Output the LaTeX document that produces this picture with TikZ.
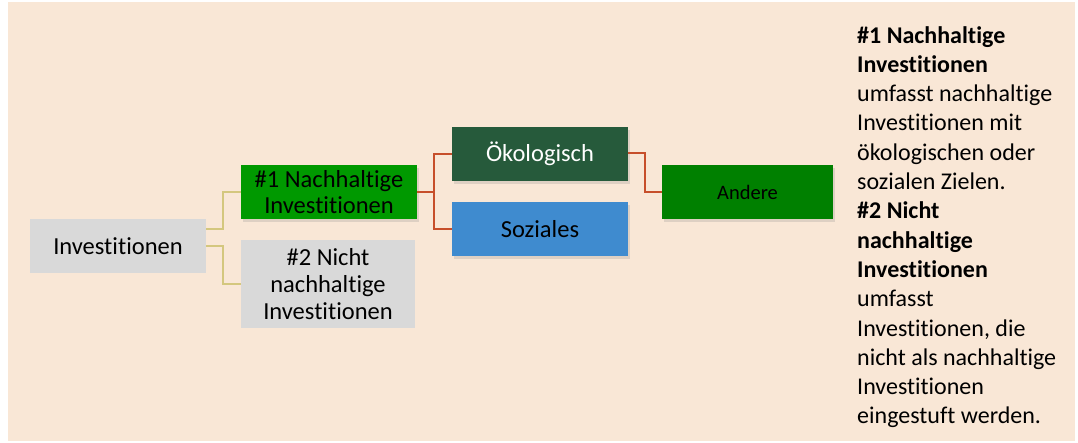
\documentclass[tikz,border=0pt]{standalone}
\usepackage{fontspec}
\setmainfont{Carlito}[Ligatures={NoCommon,NoRare},RawFeature={-liga;-dlig}]
\usetikzlibrary{shadows}
\definecolor{bg}{HTML}{F9E7D6}
\definecolor{boxgrey}{HTML}{D9D9D9}
\definecolor{nachgreen}{HTML}{009900}
\definecolor{oekgreen}{HTML}{265A3B}
\definecolor{sozblue}{HTML}{3F8BCF}
\definecolor{andgreen}{HTML}{008000}
\definecolor{yline}{HTML}{D4C77E}
\definecolor{rline}{HTML}{C74F2B}
\tikzset{
  box/.style={rectangle, inner sep=0pt, align=center, font=\fontsize{24.5}{26.8}\selectfont},
  shadowed/.style={drop shadow={opacity=0.22, shadow xshift=2pt, shadow yshift=-3pt}},
  yconn/.style={draw=yline, line width=1.8pt},
  rconn/.style={draw=rline, line width=2.4pt},
}
\begin{document}
\begin{tikzpicture}[x=1pt,y=-1pt]
\useasboundingbox (0,0) rectangle (1078,442);
\fill[white] (0,0) rectangle (1078,442);
\fill[bg] (8,2) rectangle (1075,441);

\node[box, fill=boxgrey, minimum width=176pt, minimum height=54pt] (inv) at (118,246) {Investitionen};
\node[box, fill=nachgreen, minimum width=176pt, minimum height=54pt, shadowed] (n1) at (329,192) {\#1 Nachhaltige\\Investitionen};
\node[box, fill=boxgrey, minimum width=174pt, minimum height=88pt] (n2) at (328,284) {\#2 Nicht\\nachhaltige\\Investitionen};
\node[box, fill=oekgreen, text=white, minimum width=176pt, minimum height=54pt, shadowed] (oek) at (540,154) {Ökologisch};
\node[box, fill=sozblue, minimum width=176pt, minimum height=54pt, shadowed] (soz) at (540,229) {Soziales};
\node[box, fill=andgreen, minimum width=171pt, minimum height=54pt, shadowed, font=\fontsize{20.5}{24}\selectfont] (and) at (747.5,192) {Andere};

\draw[yconn] ([yshift=17pt]inv.east) -- ++(17,0) |- (n1.west);
\draw[yconn] (inv.east) -- ++(17,0) |- (n2.west);

\coordinate (j1) at (434,192);
\draw[rconn] (n1.east) -- (j1);
\draw[rconn] (oek.west) -- ++(-18,0) |- (soz.west);
\draw[rconn] ([yshift=1pt]oek.east) -- ++(17,0) |- (and.west);

\node[anchor=north west, inner sep=0pt, align=left, font=\fontsize{24}{29.3}\selectfont] (desc) at (857,26) {%
\textbf{\#1 Nachhaltige}\\
\textbf{Investitionen}\\
umfasst nachhaltige\\
Investitionen mit\\
ökologischen oder\\
sozialen Zielen.\\
\textbf{\#2 Nicht}\\
\textbf{nachhaltige}\\
\textbf{Investitionen}\\
umfasst\\
Investitionen, die\\
nicht als nachhaltige\\
Investitionen\\
eingestuft werden.};
\end{tikzpicture}
\end{document}
